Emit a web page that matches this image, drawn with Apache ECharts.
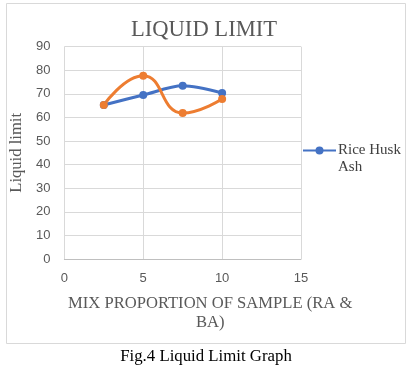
<!DOCTYPE html>
<html><head><meta charset="utf-8">
<script src="https://cdn.jsdelivr.net/npm/echarts@6/dist/echarts.min.js"></script>
<style>html,body{margin:0;padding:0;background:#fff}#c{width:413px;height:369px}</style>
</head><body><div id="c"></div>
<script>
var xValues = [2.5, 5, 7.5, 10];
var riceHuskAsh = [65.3, 69.5, 73.4, 70.4];
var bagasseAsh = [65.3, 77.7, 61.9, 67.8];
var xTicks = [0, 5, 10, 15];
var yTicks = [0, 10, 20, 30, 40, 50, 60, 70, 80, 90];

function pairs(xs, ys){ return xs.map(function(x,i){return [x, ys[i]];}); }

var chart = echarts.init(document.getElementById('c'));
chart.setOption({
  animation: false,
  backgroundColor: '#fff',
  graphic: [{
    type: 'rect', shape: {x: 6.5, y: 3.5, width: 399, height: 340},
    style: {fill: 'none', stroke: '#d9d9d9', lineWidth: 1}, z: -1
  }, {
    type: 'text', x: 204, y: 30,
    style: {text: 'LIQUID LIMIT', align: 'center', verticalAlign: 'middle',
      font: '22.6px "Liberation Serif"', fill: '#595959'}
  }, {
    type: 'text', x: 206, y: 357,
    style: {text: 'Fig.4 Liquid Limit Graph', align: 'center', verticalAlign: 'middle',
      font: '16.8px "Liberation Serif"', fill: '#000'}
  }],
  legend: {
    data: ['Rice Husk Ash'], orient: 'vertical', left: 302, top: 125, padding: 0,
    itemWidth: 33, itemHeight: 10,
    formatter: function(){ return ' \nRice Husk\nAsh'; },
    textStyle: {fontFamily: 'Liberation Serif', fontSize: 15, color: '#404040', lineHeight: 17, padding: [0,0,0,-3]}
  },
  grid: {left: 62, right: 112, top: 46.7, bottom: 110},
  xAxis: {
    type: 'value', min: 0, max: 15, interval: 5,
    name: 'MIX PROPORTION OF SAMPLE (RA &\nBA)', nameLocation: 'middle', nameGap: 35,
    nameTextStyle: {fontFamily: 'Liberation Serif', fontSize: 16.6, color: '#595959', lineHeight: 19, padding: [0,0,0,55]},
    axisLine: {show: true, lineStyle: {color: '#bfbfbf'}},
    axisTick: {show: false},
    axisLabel: {fontFamily: 'Liberation Sans', fontSize: 13, color: '#595959', margin: 13},
    splitLine: {show: true, lineStyle: {color: '#d9d9d9'}}
  },
  yAxis: {
    type: 'value', min: 0, max: 90, interval: 10,
    name: 'Liquid limit', nameLocation: 'middle', nameGap: 34,
    nameTextStyle: {fontFamily: 'Liberation Serif', fontSize: 16.6, color: '#595959'},
    axisLine: {show: false}, axisTick: {show: false},
    axisLabel: {fontFamily: 'Liberation Sans', fontSize: 13, color: '#595959', margin: 14},
    splitLine: {show: true, lineStyle: {color: '#d9d9d9'}}
  },
  series: [{
    name: 'Rice Husk Ash', type: 'line', data: pairs(xValues, riceHuskAsh),
    smooth: 0.3, symbol: 'circle', symbolSize: 8,
    lineStyle: {width: 3, color: '#4472C4'}, itemStyle: {color: '#4472C4'}
  }, {
    name: 'Bagasse Ash', type: 'line', data: pairs(xValues, bagasseAsh),
    smooth: 0.5, symbol: 'circle', symbolSize: 8,
    lineStyle: {width: 3, color: '#ED7D31'}, itemStyle: {color: '#ED7D31'}
  }]
});
</script></body></html>
